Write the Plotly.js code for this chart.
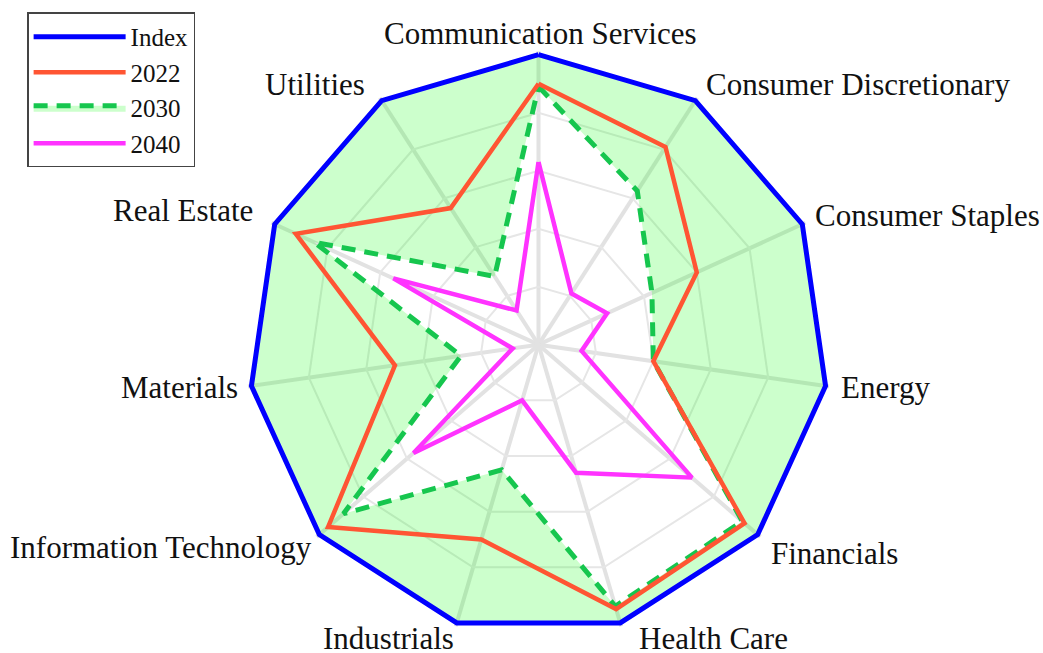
<!DOCTYPE html>
<html>
<head>
<meta charset="utf-8">
<script src="https://cdn.plot.ly/plotly-3.0.1.min.js"></script>
<style>
  html, body { margin: 0; padding: 0; background: #fff; }
  #chart { width: 1043px; height: 653px; }
</style>
</head>
<body>
<div id="chart"></div>
<script>
const categories = [
  "Communication Services", "Consumer Discretionary", "Consumer Staples", "Energy",
  "Financials", "Health Care", "Industrials", "Information Technology",
  "Materials", "Real Estate", "Utilities"
];
const index = [1, 1, 1, 1, 1, 1, 1, 1, 1, 1, 1];
const y2022 = [0.90, 0.81, 0.60, 0.40, 0.94, 0.95, 0.70, 0.96, 0.50, 0.92, 0.56];
const y2030 = [0.89, 0.63, 0.43, 0.40, 0.93, 0.94, 0.45, 0.89, 0.27, 0.85, 0.28];
const y2040 = [0.63, 0.21, 0.26, 0.15, 0.70, 0.46, 0.20, 0.57, 0.09, 0.55, 0.14];

// where each category label sits (px from top-left) and how it is anchored
const labelPos = [
  [540, 33, "center"], [704, 85, "left"], [813, 215, "left"], [839, 387, "left"],
  [769, 553, "left"], [637, 638, "left"], [456, 638, "right"], [314, 547, "right"],
  [240, 387, "right"], [255, 210, "right"], [367, 85, "right"]
];

const W = 1043, H = 653;

// close the polygons
const close = arr => arr.concat([arr[0]]);
const theta = close(categories);

const serif = "Liberation Serif, DejaVu Serif, serif";

const traces = [
  {
    type: "scatterpolar", name: "Index", r: close(index), theta: theta,
    mode: "lines", line: { color: "#0000ff", width: 5 }, legendrank: 1
  },
  {
    // green band between the index and 2030
    type: "scatterpolar", name: "2030", r: close(y2030), theta: theta,
    mode: "lines", fill: "tonext", fillcolor: "rgba(0,255,0,0.2)",
    line: { color: "#16c64e", width: 5, dash: "14px,9px" }, legendrank: 3
  },
  {
    type: "scatterpolar", name: "2022", r: close(y2022), theta: theta,
    mode: "lines", line: { color: "#ff5533", width: 4.5 }, legendrank: 2
  },
  {
    type: "scatterpolar", name: "2040", r: close(y2040), theta: theta,
    mode: "lines", line: { color: "#ff33ff", width: 4.5 }, legendrank: 4
  }
];

const annotations = categories.map((c, i) => ({
  text: c, showarrow: false,
  xref: "paper", yref: "paper",
  x: labelPos[i][0] / W, y: 1 - labelPos[i][1] / H,
  xanchor: labelPos[i][2], yanchor: "middle",
  font: { family: serif, size: 31, color: "#111" }
}));

const layout = {
  width: W, height: H,
  margin: { l: 0, r: 0, t: 0, b: 0 },
  paper_bgcolor: "#fff",
  font: { family: serif, size: 25, color: "#111" },
  showlegend: true,
  legend: {
    x: 0.026, y: 0.981, xanchor: "left", yanchor: "top",
    bgcolor: "#fff", bordercolor: "#444", borderwidth: 1.5,
    font: { family: serif, size: 25, color: "#111" },
    itemwidth: 92, tracegroupgap: 0
  },
  annotations: annotations,
  polar: {
    // range goes a little past 1 so the thick index outline is not clipped
    domain: { x: [0.2349, 0.7977], y: [0.0227, 0.9216] },
    gridshape: "linear",
    bgcolor: "rgba(0,0,0,0)",
    angularaxis: {
      direction: "clockwise", rotation: 90,
      showline: false, showticklabels: false, ticks: "",
      gridcolor: "#e2e2e2", gridwidth: 4
    },
    radialaxis: {
      range: [0, 1.012], tickvals: [0.2, 0.4, 0.6, 0.8, 1.0],
      showline: false, showticklabels: false, ticks: "",
      gridcolor: "#e6e6e6", gridwidth: 1.5
    }
  }
};

Plotly.newPlot("chart", traces, layout, { displayModeBar: false });
</script>
</body>
</html>
